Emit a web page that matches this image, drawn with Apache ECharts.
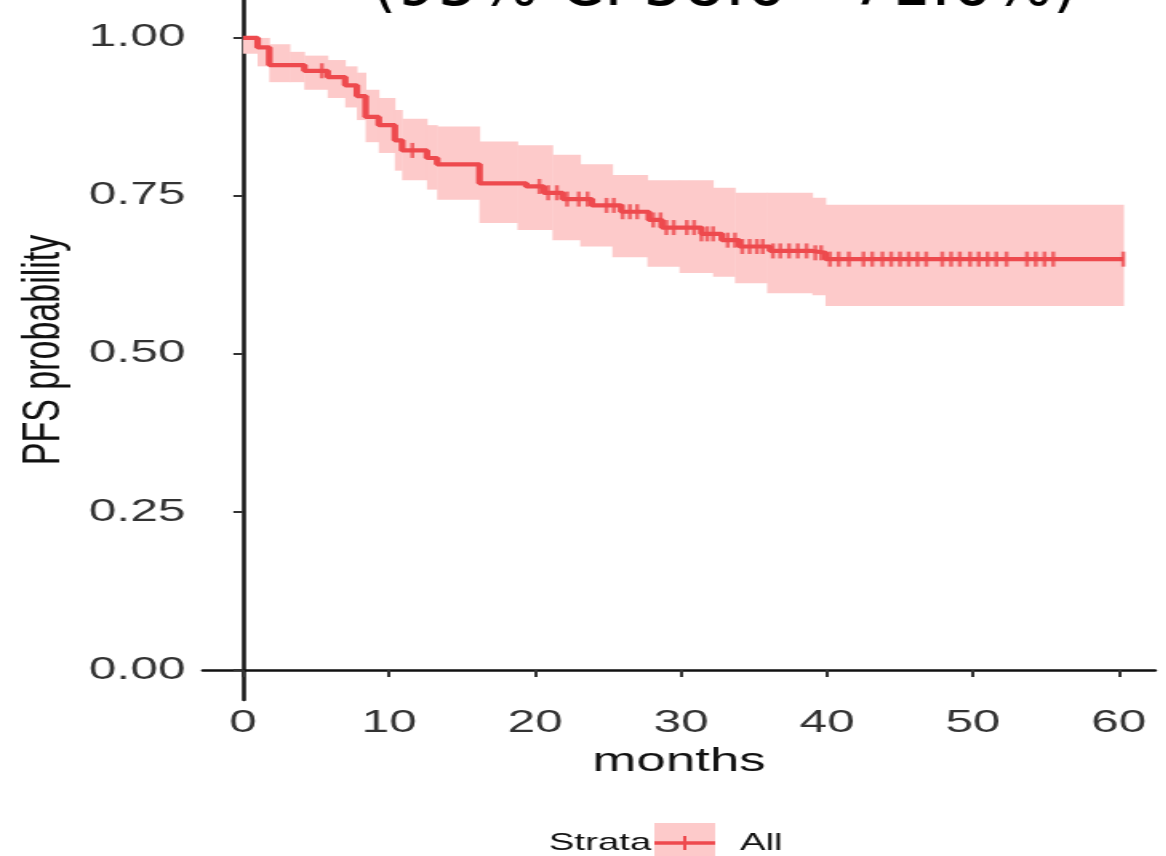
<!DOCTYPE html>
<html>
<head>
<meta charset="utf-8">
<script src="https://cdn.jsdelivr.net/npm/echarts@6/dist/echarts.min.js"></script>
<style>
  html, body { margin: 0; padding: 0; background: #fff; overflow: hidden; width: 1166px; height: 856px; }
  /* the plot is laid out in a narrower box and widened horizontally */
  #chart { width: 729px; height: 856px; transform: scaleX(1.6); transform-origin: 0 0; }
</style>
</head>
<body>
<div id="chart"></div>
<script>
// Kaplan-Meier estimate: event times (months) and survival after each step
const kmTime = [0, 1.0, 1.8, 4.2, 5.8, 7.0, 7.8, 8.4, 9.3, 10.4, 10.9, 12.6, 13.3, 16.2, 19.4, 20.6, 21.9, 23.9, 25.9, 27.8, 28.7, 31.4, 32.8, 34.0, 36.1, 39.0, 39.9];
const kmSurv = [1.00, 0.985, 0.957, 0.948, 0.938, 0.925, 0.908, 0.875, 0.862, 0.838, 0.822, 0.810, 0.800, 0.770, 0.765, 0.755, 0.745, 0.735, 0.725, 0.712, 0.700, 0.690, 0.680, 0.670, 0.663, 0.660, 0.650];
const kmEnd = 60.3;

// censored follow-up times (months)
const censorTime = [5.4, 11.6, 20.3, 20.9, 21.5, 22.2, 23.0, 23.6, 24.9, 25.4, 26.0, 26.5, 27.0, 28.1, 28.6, 29.0, 29.5, 30.4, 30.9, 31.4, 31.8, 32.2, 33.2, 33.7, 34.2, 34.7, 35.2, 35.6, 36.3, 36.8, 37.4, 38.0, 38.6, 39.2, 39.6, 40.2, 40.8, 41.5, 42.5, 43.1, 43.8, 44.4, 45.0, 45.6, 46.2, 46.8, 47.9, 48.5, 49.1, 49.8, 50.4, 51.0, 51.6, 52.3, 53.7, 54.3, 54.9, 55.5, 60.3];

// 95% confidence band
const ciTime = [0, 1.0, 1.8, 3.2, 4.2, 5.8, 7.0, 7.8, 8.4, 9.3, 10.4, 10.9, 12.6, 13.3, 16.2, 18.8, 21.2, 23.1, 25.3, 27.7, 29.9, 32.2, 33.7, 35.9, 39.0, 39.9];
const ciLow  = [0.975, 0.955, 0.93, 0.93, 0.918, 0.905, 0.89, 0.87, 0.835, 0.818, 0.79, 0.775, 0.76, 0.744, 0.707, 0.696, 0.68, 0.67, 0.653, 0.638, 0.628, 0.622, 0.612, 0.596, 0.593, 0.576];
const ciHigh = [1.0, 1.0, 0.99, 0.978, 0.972, 0.965, 0.955, 0.945, 0.918, 0.905, 0.886, 0.872, 0.862, 0.86, 0.836, 0.83, 0.815, 0.80, 0.783, 0.775, 0.775, 0.763, 0.755, 0.755, 0.747, 0.736];

const xTicks = [0, 10, 20, 30, 40, 50, 60];
const yTicks = [0, 0.25, 0.5, 0.75, 1];
const strataName = 'All';
const titleText = '(95% CI 58.6 - 71.6%)';

const RED = '#ee4a4e';
const PINK = '#fdcaca';
const SX = 1.6;

function survAt(t) {
  let s = kmSurv[0];
  for (let i = 0; i < kmTime.length; i++) if (kmTime[i] <= t) s = kmSurv[i];
  return s;
}

const curve = kmTime.map((t, i) => [t, kmSurv[i]]).concat([[kmEnd, kmSurv[kmSurv.length - 1]]]);
const censors = censorTime.map(t => [t, survAt(t)]);
// each band step: [from, to, lower, upper]
const band = ciTime.map((t, i) => [t, i + 1 < ciTime.length ? ciTime[i + 1] : kmEnd, ciLow[i], ciHigh[i]]);

const chart = echarts.init(document.getElementById('chart'), null, { renderer: 'canvas' });

chart.setOption({
  animation: false,
  backgroundColor: '#fff',
  grid: { left: 126.9, right: 7.1, top: 0, bottom: 156, containLabel: false, outerBoundsMode: 'none' },
  xAxis: {
    type: 'value', min: -2.74, max: 62.47,
    name: 'months', nameLocation: 'middle', nameGap: 45,
    nameTextStyle: { fontFamily: 'Liberation Sans', fontSize: 33, color: '#111' },
    axisLine: { show: true, lineStyle: { color: '#111', width: 2.5 } },
    axisTick: { show: true, length: 7, customValues: xTicks, lineStyle: { color: '#333', width: 2 } },
    axisLabel: { customValues: xTicks, margin: 8, fontFamily: 'Liberation Sans', fontSize: 31, color: '#333' },
    splitLine: { show: false }
  },
  yAxis: {
    type: 'value', min: -0.0475, max: 1.06,
    name: 'PFS probability', nameLocation: 'middle', nameGap: 78, nameRotate: 90,
    nameTextStyle: { fontFamily: 'Liberation Sans', fontSize: 34, color: '#111' },
    axisLine: { show: true, lineStyle: { color: '#111', width: 2.5 } },
    axisTick: { show: true, length: 6, customValues: yTicks, lineStyle: { color: '#333', width: 2 } },
    axisLabel: { customValues: yTicks, margin: 11, fontFamily: 'Liberation Sans', fontSize: 31, color: '#333',
      formatter: v => v.toFixed(2) },
    splitLine: { show: false }
  },
  series: [
    {
      type: 'custom', name: 'ci', data: band, silent: true, z: 1,
      encode: { x: [0, 1], y: [2, 3] },
      renderItem: function (params, api) {
        const a = api.coord([api.value(0), api.value(3)]);
        const b = api.coord([api.value(1), api.value(2)]);
        return {
          type: 'rect',
          shape: { x: a[0], y: a[1], width: b[0] - a[0] + 0.4, height: b[1] - a[1] },
          style: { fill: PINK }
        };
      }
    },
    {
      type: 'line', name: strataName, step: 'end', data: curve,
      symbol: 'none', lineStyle: { color: RED, width: 4.2 }, z: 3
    },
    {
      type: 'scatter', name: strataName + ' censored', data: censors,
      symbol: 'rect', symbolSize: [2.5, 15], itemStyle: { color: RED }, z: 4
    }
  ],
  graphic: [
    {
      type: 'text', x: 453, y: -12, scaleX: 1 / SX, z: 10,
      style: { text: titleText, fontFamily: 'DejaVu Sans', fontSize: 64, fill: '#000',
        align: 'center', verticalAlign: 'middle' }
    },
    {
      type: 'text', x: 343, y: 843,
      style: { text: 'Strata', fontFamily: 'Liberation Sans', fontSize: 24, fill: '#111', verticalAlign: 'middle' }
    },
    { type: 'rect', shape: { x: 409, y: 823, width: 38, height: 40 }, style: { fill: PINK } },
    { type: 'line', shape: { x1: 409, y1: 843, x2: 447, y2: 843 }, style: { stroke: RED, lineWidth: 3.5 } },
    { type: 'line', shape: { x1: 428, y1: 836, x2: 428, y2: 850 }, style: { stroke: RED, lineWidth: 2 } },
    {
      type: 'text', x: 462.5, y: 843,
      style: { text: strataName, fontFamily: 'Liberation Sans', fontSize: 24, fill: '#111', verticalAlign: 'middle' }
    }
  ]
});
</script>
</body>
</html>
